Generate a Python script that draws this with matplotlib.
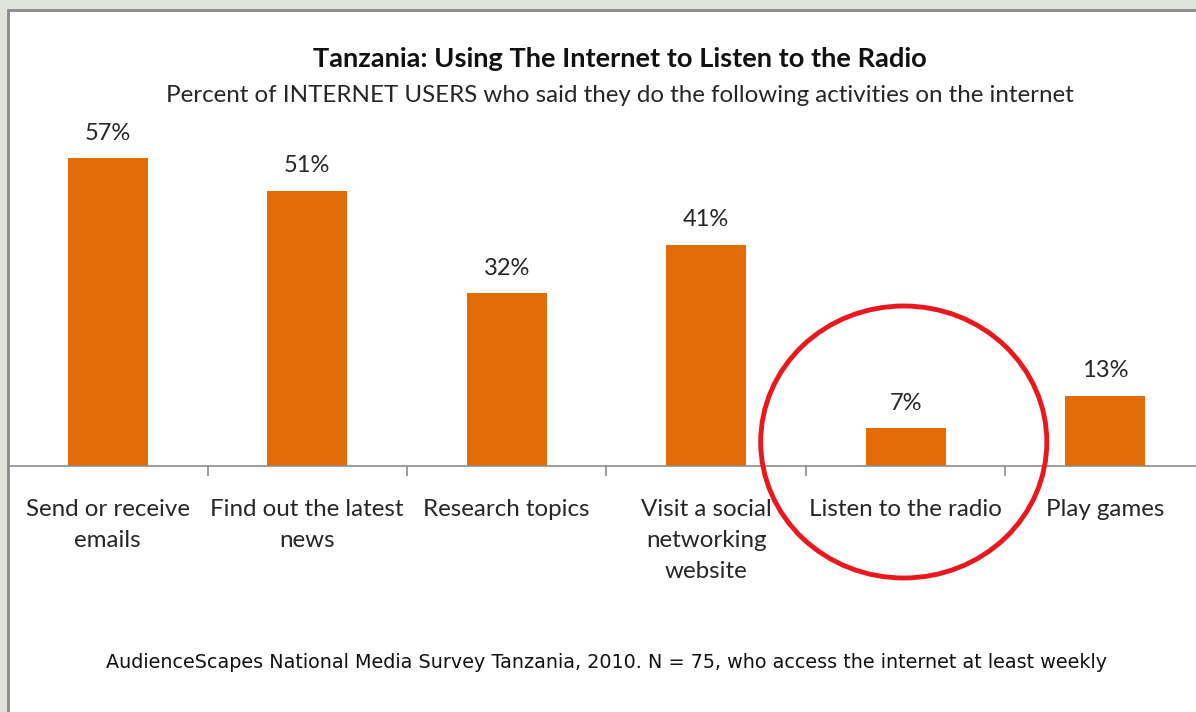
import matplotlib
matplotlib.use("Agg")
import matplotlib.pyplot as plt
from matplotlib.patches import Rectangle, Ellipse

# ============ DATA ============
categories = ["Send or receive\nemails", "Find out the latest\nnews", "Research topics",
              "Visit a social\nnetworking\nwebsite", "Listen to the radio", "Play games"]
values = [57, 51, 32, 41, 7, 13]
highlight = "Listen to the radio"

BAR_COLOR = "#E36C09"
TEXT_COLOR = "#262626"
AXIS_COLOR = "#8c8c8c"

plt.rcParams['font.family'] = ['Lato', 'DejaVu Sans']

fig = plt.figure(figsize=(11.96, 7.12), dpi=100)
fig.patch.set_facecolor("#dfe3da")

# white panel with grey frame (behind the axes)
panel = Rectangle((8 / 1196, -0.05), 1.1, (712 - 10) / 712 + 0.05, transform=fig.transFigure,
                  facecolor="white", edgecolor="#8a8a8a", linewidth=2, zorder=-1)
fig.patches.append(panel)

# axes placed so that baseline sits at y=466px
ax = fig.add_axes([10 / 1196, (712 - 466) / 712, 1186 / 1196, (466 - 100) / 712])
ax.set_facecolor("none")
px_per_unit = 5.4
ax.set_ylim(0, (466 - 100) / px_per_unit)
ax.set_xlim(-0.49, 5.455)

x = list(range(len(categories)))
ax.bar(x, values, width=0.4, color=BAR_COLOR, zorder=2)

for xi, v in zip(x, values):
    ax.annotate(f"{v}%", (xi, v), xytext=(0, 10.5), textcoords="offset points",
                ha="center", va="bottom", fontsize=17, color=TEXT_COLOR)

for s in ["left", "right", "top"]:
    ax.spines[s].set_visible(False)
ax.spines["bottom"].set_color(AXIS_COLOR)
ax.spines["bottom"].set_linewidth(1.2)
ax.set_yticks([])

# category labels between tick marks at the boundaries
ax.set_xticks([i + 0.5 for i in range(len(categories) - 1)])
ax.set_xticklabels([])
ax.tick_params(axis="x", length=7, color=AXIS_COLOR, width=1.2)
for xi, lab in zip(x, categories):
    ax.annotate(lab, (xi, 0), xytext=(0, -24), textcoords="offset points",
                ha="center", va="top", fontsize=17.4, color=TEXT_COLOR, linespacing=1.58)

# red circle around the highlighted category
hi = categories.index(highlight)
circ = Ellipse((hi - 0.01, 24 / px_per_unit), width=286 / 199.4, height=272 / px_per_unit,
               facecolor="none", edgecolor="#e8181c", linewidth=3.5, clip_on=False, zorder=5)
ax.add_patch(circ)

fig.text(620 / 1196, 1 - 59 / 712, "Tanzania: Using The Internet to Listen to the Radio",
         ha="center", va="center", fontsize=19.6, fontweight="bold", color="#111111")
fig.text(620 / 1196, 1 - 95 / 712,
         "Percent of INTERNET USERS who said they do the following activities on the internet",
         ha="center", va="center", fontsize=17.4, color=TEXT_COLOR)
fig.text(607 / 1196, 1 - 663 / 712,
         "AudienceScapes National Media Survey Tanzania, 2010. N = 75, who access the internet at least weekly",
         ha="center", va="center", fontsize=13.8, color="#111111",
         family=['Liberation Sans Narrow', 'DejaVu Sans'])

fig.savefig("out.png", dpi=100, facecolor=fig.get_facecolor())
